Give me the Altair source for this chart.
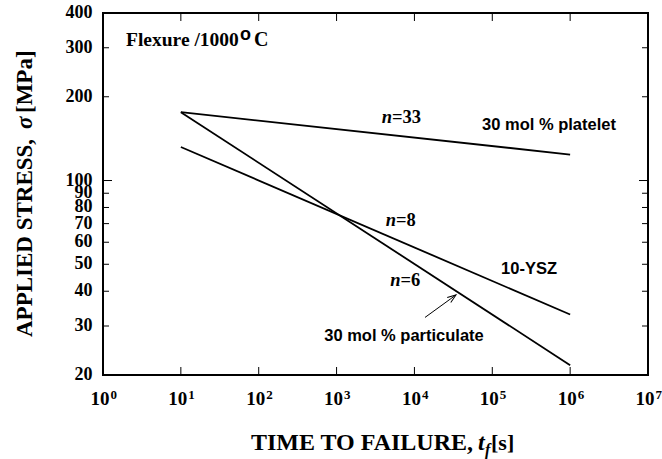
import altair as alt
import pandas as pd

# ---- data ----
series_names = ["30 mol % platelet", "10-YSZ", "30 mol % particulate"]
time_start = [10, 10, 10]
time_end = [1e6, 1e6, 1e6]
stress_start = [176, 132, 176]
stress_end = [124, 33, 21.7]

x_tick_values = [1, 10, 100, 1000, 10000, 100000, 1000000, 10000000]
x_tick_exps = ["0", "1", "2", "3", "4", "5", "6", "7"]
x_inner_ticks = [10, 100, 1000, 10000, 100000, 1000000]
y_label_values = [20, 30, 40, 50, 60, 70, 80, 90, 100, 200, 300, 400]
y_label_texts = ["20", "30", "40", "50", "60", "70", "80", "90", "100", "200", "300", "400"]
y_minor_ticks = [30, 40, 50, 60, 70, 80, 90, 200, 300]
y_major_ticks = [100]

# annotation anchors (data coordinates)
n_labels = ["=33", "=8", "=6"]
n_x = [5152, 5798, 6622]
n_y = [161.6, 68.6, 41.8]
name_labels = ["30 mol % platelet", "10-YSZ", "30 mol % particulate"]
name_x = [535000, 296200, 7350]
name_y = [151.3, 46.0, 26.6]
flex_x = [1.974]
flex_y = [305.1]
arrow_x = [13670, 34200]
arrow_y = [32.2, 38.8]

W, H = 545, 362
SERIF = "Liberation Serif"
SANS = "Liberation Sans"

xscale = alt.Scale(type="log", domain=[1, 1e7], nice=False)
yscale = alt.Scale(type="log", domain=[20, 400], nice=False)

rows = []
for s, t0, t1, s0, s1 in zip(series_names, time_start, time_end, stress_start, stress_end):
    rows.append({"series": s, "time": t0, "stress": s0})
    rows.append({"series": s, "time": t1, "stress": s1})
lines_df = pd.DataFrame(rows)

lines = alt.Chart(lines_df).mark_line(color="black", strokeWidth=1.8).encode(
    x=alt.X("time:Q", scale=xscale, axis=None),
    y=alt.Y("stress:Q", scale=yscale, axis=None),
    detail="series:N",
)

def yticks(vals, x0, x1):
    return alt.Chart(pd.DataFrame({"v": vals})).mark_rule(color="black", strokeWidth=1).encode(
        y=alt.Y("v:Q", scale=yscale, axis=None), x=alt.value(x0), x2=alt.value(x1))

def xticks(vals, y0, y1):
    return alt.Chart(pd.DataFrame({"v": vals})).mark_rule(color="black", strokeWidth=1).encode(
        x=alt.X("v:Q", scale=xscale, axis=None), y=alt.value(y0), y2=alt.value(y1))

tick_layers = [
    yticks(y_minor_ticks, 0, 6), yticks(y_major_ticks, 0, 9),
    yticks(y_minor_ticks, W, W - 6), yticks(y_major_ticks, W, W - 9),
    xticks(x_inner_ticks, H, H - 8), xticks(x_inner_ticks, 0, 8),
]

ylab = alt.Chart(pd.DataFrame({"v": y_label_values, "t": y_label_texts})).mark_text(
    align="right", baseline="middle", font=SERIF, fontWeight="bold", fontSize=18, color="black"
).encode(y=alt.Y("v:Q", scale=yscale, axis=None), x=alt.value(-10.5), text="t:N")

xlab_df = pd.DataFrame({"v": x_tick_values, "e": x_tick_exps})
xlab_base = alt.Chart(xlab_df).mark_text(
    text="10", align="right", baseline="alphabetic", dx=6.5,
    font=SERIF, fontWeight="bold", fontSize=19, color="black"
).encode(x=alt.X("v:Q", scale=xscale, axis=None), y=alt.value(392))
xlab_sup = alt.Chart(xlab_df).mark_text(
    align="left", baseline="alphabetic", dx=7.5,
    font=SERIF, fontWeight="bold", fontSize=13, color="black"
).encode(x=alt.X("v:Q", scale=xscale, axis=None), y=alt.value(386), text="e:N")

def txt(s, x, y, **kw):
    return alt.Chart(pd.DataFrame({"t": [s]})).mark_text(color="black", **kw).encode(
        text="t:N", x=alt.value(x), y=alt.value(y))

# x title: TIME TO FAILURE, t_f [s]
xt = [
    txt("TIME TO FAILURE,", 370, 437, align="right", baseline="alphabetic", font=SERIF, fontWeight="bold", fontSize=24),
    txt("t", 375, 437, align="left", baseline="alphabetic", font=SERIF, fontWeight="bold", fontStyle="italic", fontSize=24),
    txt("f", 382, 442, align="left", baseline="alphabetic", font=SERIF, fontWeight="bold", fontStyle="italic", fontSize=16),
    txt("[s]", 388, 437, align="left", baseline="alphabetic", font=SERIF, fontWeight="bold", fontSize=22),
]
# y title: APPLIED STRESS, sigma [MPa]
yt = [
    txt("APPLIED STRESS,", -71.5, 324, angle=270, align="left", baseline="alphabetic", font=SERIF, fontWeight="bold", fontSize=23),
    txt("σ", -71.5, 116, angle=270, align="left", baseline="alphabetic", font=SERIF, fontWeight="bold", fontStyle="italic", fontSize=23),
    txt("[MPa]", -71.5, 100, angle=270, align="left", baseline="alphabetic", font=SERIF, fontWeight="bold", fontSize=23),
]

flex_df = pd.DataFrame({"x": flex_x, "y": flex_y})
def flex_part(s, dx, dy, **kw):
    return alt.Chart(flex_df).mark_text(text=s, align="left", baseline="alphabetic", dx=dx, dy=dy,
                                        color="black", fontWeight="bold", **kw).encode(
        x=alt.X("x:Q", scale=xscale, axis=None), y=alt.Y("y:Q", scale=yscale, axis=None))
flex = [
    flex_part("Flexure /1000", 0, 0, font=SERIF, fontSize=19.5),
    flex_part("o", 114, -6, font=SANS, fontSize=18),
    flex_part("C", 128, 0, font=SERIF, fontSize=20),
]

n_df = pd.DataFrame({"x": n_x, "y": n_y, "lab": n_labels})
n_ital = alt.Chart(n_df).mark_text(text="n", align="right", baseline="alphabetic", font=SERIF,
                                   fontWeight="bold", fontStyle="italic", fontSize=18.5, color="black").encode(
    x=alt.X("x:Q", scale=xscale, axis=None), y=alt.Y("y:Q", scale=yscale, axis=None))
n_rest = alt.Chart(n_df).mark_text(align="left", baseline="alphabetic", font=SERIF,
                                   fontWeight="bold", fontSize=18.5, color="black").encode(
    x=alt.X("x:Q", scale=xscale, axis=None), y=alt.Y("y:Q", scale=yscale, axis=None), text="lab:N")

name_df = pd.DataFrame({"x": name_x, "y": name_y, "lab": name_labels})
names = alt.Chart(name_df).mark_text(align="center", baseline="alphabetic", font=SANS,
                                     fontWeight="bold", fontSize=16.5, color="black").encode(
    x=alt.X("x:Q", scale=xscale, axis=None), y=alt.Y("y:Q", scale=yscale, axis=None), text="lab:N")

arrow_df = pd.DataFrame({"x": arrow_x, "y": arrow_y})
arrow_line = alt.Chart(arrow_df).mark_line(color="black", strokeWidth=1).encode(
    x=alt.X("x:Q", scale=xscale, axis=None), y=alt.Y("y:Q", scale=yscale, axis=None))
arrow_head = alt.Chart(arrow_df.iloc[[1]]).mark_point(
    shape="M-0.35,1L0,0L0.35,1", size=300, angle=54.3, filled=False,
    stroke="black", strokeWidth=1, opacity=1
).encode(x=alt.X("x:Q", scale=xscale, axis=None), y=alt.Y("y:Q", scale=yscale, axis=None))

chart = alt.layer(
    lines, *tick_layers, ylab, xlab_base, xlab_sup, *xt, *yt, *flex, n_ital, n_rest, names,
    arrow_line, arrow_head
).properties(
    width=W, height=H,
    autosize=alt.AutoSizeParams(type="none"),
    padding={"left": 103, "top": 13, "right": 14, "bottom": 84},
).configure_view(stroke="black", strokeWidth=2)

chart.save("out.html", embed_options={"renderer": "svg", "actions": False})
